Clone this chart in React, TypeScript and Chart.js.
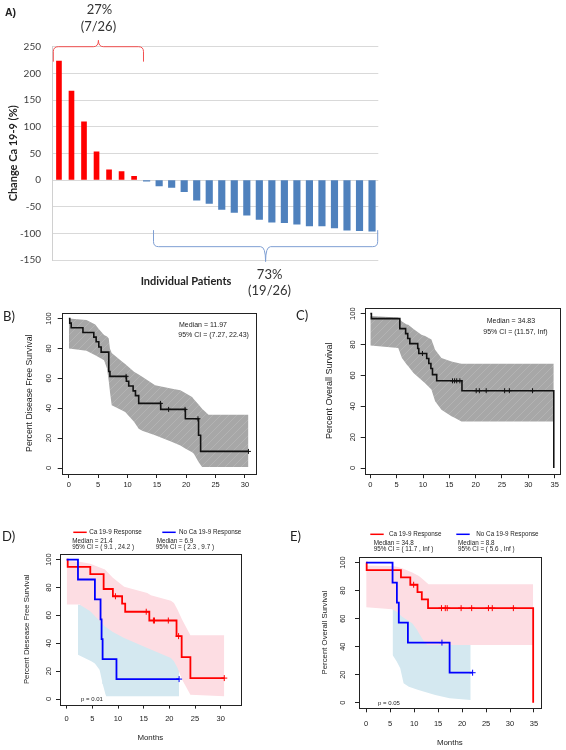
import React, { useEffect, useRef } from 'react';
import { Chart, registerables } from 'chart.js';

Chart.register(...registerables);
Chart.defaults.font.family = "'Liberation Sans', Arial, sans-serif";
Chart.defaults.color = '#222';

// ---------------- Panel A: waterfall of Ca 19-9 change ----------------
const increases = [223, 167, 109, 53, 19, 16, 7];
const decreases = [-2, -11, -14, -22, -38, -44, -55, -61, -66, -74, -79, -80, -83, -86, -86, -90, -94, -95, -96];
const patientIds = [...increases, ...decreases].map((_, i) => String(i + 1));
const yTicksA = [-150, -100, -50, 0, 50, 100, 150, 200, 250];

// ---------------- Panel B: disease free survival (all) ----------------
const tB = [0, 0.15, 0.4, 2.4, 4.25, 4.65, 5.1, 5.5, 6.8, 7.0, 9.8, 10.2, 10.95, 11.35, 11.9, 15.65, 19.85, 22.1, 22.45, 30.6];
const sB = [100, 96.9, 93.8, 90.6, 87.5, 84.4, 80.9, 77.5, 64.5, 61.3, 58.0, 54.8, 51.6, 48.4, 43.2, 39.2, 32.9, 21.9, 11.1, 11.1];
const censorB = [9.75, 15.6, 17.0, 19.8, 22.0, 30.6];
const bandBT = [0, 3, 4.5, 5.1, 6.0, 6.5, 6.8, 7.0, 7.3, 9.1, 9.6, 11.1, 11.9, 12.5, 14.7, 17.6, 19.0, 19.9, 21.0, 21.3, 22.1, 22.7, 23.8, 30.6];
const bandBUp = [100, 99, 96, 93, 89, 88, 86.6, 80, 77, 71, 69.5, 64.3, 62.5, 61, 55.4, 53, 52, 50, 47.5, 46, 42.5, 39.7, 35.7, 35.7];
const bandBLo = [80, 78.5, 75.4, 74, 72, 66.5, 58, 51, 42, 38.5, 37.5, 31, 26.3, 25, 21.9, 17.4, 15, 12.9, 10.5, 9.6, 4, 0.7, 0.7, 0.7];

// ---------------- Panel C: overall survival (all) ----------------
const tC = [0, 0.2, 5.6, 6.7, 7.1, 7.5, 9.0, 9.2, 10.7, 11.1, 11.5, 11.8, 12.6, 17.4, 34.83];
const sC = [100, 96.8, 90.3, 87.1, 83.9, 80.6, 77.4, 74.2, 71.0, 67.7, 64.5, 60.5, 56.5, 50.1, 0];
const censorC = [9.9, 15.6, 16.0, 16.4, 17.0, 20.1, 20.7, 22.0, 25.5, 26.4, 30.8];
const bandCT = [0, 5.3, 6.0, 6.9, 7.2, 8.2, 9.7, 10.4, 11.6, 12.3, 13.5, 15.4, 16.0, 17.3, 34.83];
const bandCUp = [98.5, 97.5, 95, 93, 92.9, 90, 86.4, 85.5, 83.2, 76.7, 71.3, 69, 68.5, 67.6, 67.6];
const bandCLo = [79.3, 77.8, 71.3, 67, 66, 61.6, 57, 55, 50.8, 43.2, 37.8, 33.5, 32.5, 30.2, 30.2];

// ---------------- Panel D: DFS by response ----------------
const tDr = [0, 0.2, 4.6, 7.2, 9.0, 10.8, 11.4, 16.1, 21.4, 22.4, 24.1, 30.7];
const sDr = [100, 94.7, 89.5, 78.9, 73.7, 68.4, 62.6, 56.3, 45.1, 30.0, 15.0, 15.0];
const censorDr = [9.5, 15.5, 16.9, 17.1, 19.8, 21.8, 30.7];
const tDb = [0, 2.2, 5.5, 6.6, 6.8, 7.0, 9.7, 21.9];
const sDb = [100, 85.7, 71.4, 57.1, 42.9, 28.6, 14.3, 14.3];
const censorDb = [21.9];
const bandDrT = [0, 2.5, 4.6, 7.2, 7.4, 9.0, 11.2, 15.7, 16.4, 20.3, 20.9, 21.6, 22.5, 24.1, 30.7];
const bandDrUp = [99, 98.5, 97, 93.3, 93, 87, 80.5, 76, 74.5, 70.5, 68.9, 64, 56.9, 45.7, 45.7];
const bandDrLo = [67.7, 67.7, 62.9, 53, 52.2, 48, 43.8, 36.6, 35.5, 29.4, 27, 22.2, 13.9, 3.1, 1.9];
const bandDbT = [2.2, 4.8, 5.5, 6.4, 6.5, 6.9, 7.0, 7.4, 7.5, 7.7, 9.6, 13.8, 19.0, 21.9];
const bandDbUp = [67.7, 66, 65.5, 63, 62, 58, 57, 55, 54, 53, 50, 45, 40, 35];
const bandDbLo = [31.8, 27, 25.5, 21, 19.5, 12.7, 11, 5.5, 4, 1.9, 1.9, 1.9, 1.9, 1.9];

// ---------------- Panel E: OS by response ----------------
const tEr = [0, 0.1, 7.25, 9.2, 10.7, 11.6, 12.9, 34.83];
const sEr = [100, 94.7, 89.5, 84.2, 78.9, 73.7, 67.5, 0];
const censorEr = [9.9, 15.7, 16.5, 16.9, 19.8, 22.0, 25.5, 26.3, 30.7];
const tEb = [0, 5.5, 6.4, 6.8, 8.7, 17.4, 22.2];
const sEb = [100, 85.7, 71.4, 57.1, 42.9, 21.4, 21.4];
const censorEb = [15.8, 22.2];
const bandErT = [0, 5.4, 6.4, 7.5, 9.6, 10.6, 11.0, 12.0, 12.7, 13.0, 34.83];
const bandErUp = [98, 97.5, 97, 96, 93, 91.2, 90.5, 87.6, 85.5, 84.5, 84.5];
const bandErLo = [68.1, 66.7, 65, 61.4, 56.7, 52, 49.5, 44, 41.2, 41.2, 41.2];
const bandEbT = [5.5, 6.4, 7.1, 7.8, 8.9, 10.9, 14.4, 17.4, 21.8];
const bandEbUp = [70, 70, 68, 66, 64, 62, 60, 58, 56];
const bandEbLo = [34, 29.3, 24.5, 13.8, 11.4, 9, 5.5, 3.1, 1.9];

const survTicks = [0, 20, 40, 60, 80, 100];
const monthTicks30 = [0, 5, 10, 15, 20, 25, 30];
const monthTicks35 = [0, 5, 10, 15, 20, 25, 30, 35];

// -------------------------------------------------------------------
function stepAt(t: number[], s: number[], x: number) {
  let v = s[0];
  for (let i = 0; i < t.length; i++) if (t[i] <= x) v = s[i];
  return v;
}

function hatchPattern() {
  const c = document.createElement('canvas');
  c.width = 8; c.height = 8;
  const g = c.getContext('2d')!;
  g.fillStyle = '#a7a7a7';
  g.fillRect(0, 0, 8, 8);
  g.strokeStyle = '#b3b3b3';
  g.lineWidth = 1;
  g.beginPath(); g.moveTo(0, 8); g.lineTo(8, 0); g.stroke();
  return g.createPattern(c, 'repeat');
}

type Txt = { text: string; x: number; y: number; size: number; family?: string; weight?: string; color?: string; align?: CanvasTextAlign };
type Seg = { x1: number; y1: number; x2: number; y2: number; color: string; width: number };
type Curve = { t: number[]; s: number[]; color: string; width: number; censor: number[]; mark: number };
type Band = { t: number[]; upper: number[]; lower: number[]; color: string | 'hatch' };
type KM = {
  left: number; top: number; width: number; height: number;
  area: { left: number; top: number; right: number; bottom: number };
  xMin: number; xMax: number; xTicks: number[];
  yTitle: string; yTitleSize: number; yTitlePad: number;
  tickSize: number; yLabelPad: number; xLabelPad: number;
  xTitle?: string; xTitleSize?: number; xTitlePad?: number;
  curves: Curve[]; bands: Band[]; texts: Txt[]; segs: Seg[];
};

function drawTexts(ctx: CanvasRenderingContext2D, texts: Txt[]) {
  texts.forEach((t) => {
    ctx.font = `${t.weight || 'normal'} ${t.size}px ${t.family || "'Liberation Sans', Arial, sans-serif"}`;
    ctx.fillStyle = t.color || '#222';
    ctx.textAlign = t.align || 'left';
    ctx.textBaseline = 'middle';
    ctx.fillText(t.text, t.x, t.y);
  });
}

function makeKM(canvas: HTMLCanvasElement, p: KM) {
  const W = p.width, H = p.height;
  const datasets: any[] = [];
  p.curves.forEach((c) =>
    datasets.push({
      data: c.censor.map((x) => ({ x, y: stepAt(c.t, c.s, x) })),
      showLine: false, pointStyle: 'cross', pointRadius: c.mark, pointHoverRadius: c.mark,
      pointBorderColor: c.color, pointBorderWidth: 1, borderColor: c.color, backgroundColor: c.color,
    })
  );
  p.curves.forEach((c) =>
    datasets.push({
      data: c.t.map((x, i) => ({ x, y: c.s[i] })),
      stepped: 'before', borderColor: c.color, borderWidth: c.width, pointRadius: 0, fill: false,
    })
  );
  p.bands.forEach((b) => {
    const color = b.color === 'hatch' ? hatchPattern() : b.color;
    datasets.push({
      data: b.t.map((x, i) => ({ x, y: b.upper[i] })),
      fill: '+1', backgroundColor: color, borderColor: 'rgba(0,0,0,0)', borderWidth: 1, pointRadius: 0,
    });
    datasets.push({
      data: b.t.map((x, i) => ({ x, y: b.lower[i] })),
      fill: false, borderColor: 'rgba(0,0,0,0)', borderWidth: 1, pointRadius: 0,
    });
  });

  const annot = {
    id: 'annot',
    afterDraw(chart: any) {
      const ctx: CanvasRenderingContext2D = chart.ctx;
      ctx.save();
      const a = chart.chartArea;
      ctx.strokeStyle = '#222';
      ctx.lineWidth = 1;
      ctx.strokeRect(Math.round(a.left) + 0.5, Math.round(a.top) + 0.5, Math.round(a.right) - Math.round(a.left), Math.round(a.bottom) - Math.round(a.top));
      p.segs.forEach((s) => {
        ctx.strokeStyle = s.color; ctx.lineWidth = s.width;
        ctx.beginPath(); ctx.moveTo(s.x1, s.y1); ctx.lineTo(s.x2, s.y2); ctx.stroke();
      });
      drawTexts(ctx, p.texts);
      ctx.restore();
    },
  };

  return new Chart(canvas, {
    type: 'line',
    data: { datasets },
    options: {
      responsive: false, animation: false, devicePixelRatio: 1,
      layout: { padding: { left: 0, top: p.area.top, right: W - p.area.right, bottom: 0 } },
      plugins: { legend: { display: false }, tooltip: { enabled: false } },
      scales: {
        x: {
          type: 'linear', min: p.xMin, max: p.xMax,
          afterBuildTicks: (s: any) => { s.ticks = p.xTicks.map((v) => ({ value: v })); },
          afterFit: (s: any) => { s.height = H - p.area.bottom; },
          grid: { drawOnChartArea: false, drawTicks: true, tickLength: 4, color: '#222' },
          border: { display: false },
          ticks: { font: { size: p.tickSize }, color: '#222', padding: p.xLabelPad, maxRotation: 0, autoSkip: false },
          title: p.xTitle
            ? { display: true, text: p.xTitle, font: { size: p.xTitleSize }, color: '#222', padding: { top: 0, bottom: p.xTitlePad } }
            : { display: false },
        },
        y: {
          type: 'linear', min: -4, max: 104,
          afterBuildTicks: (s: any) => { s.ticks = survTicks.map((v) => ({ value: v })); },
          afterFit: (s: any) => { s.width = p.area.left; },
          grid: { drawOnChartArea: false, drawTicks: true, tickLength: 4, color: '#222' },
          border: { display: false },
          ticks: { font: { size: p.tickSize }, color: '#222', padding: p.yLabelPad, minRotation: 90, maxRotation: 90, crossAlign: 'center', autoSkip: false },
          title: { display: true, text: p.yTitle, font: { size: p.yTitleSize }, color: '#222', padding: { top: p.yTitlePad, bottom: 0 } },
        },
      },
    } as any,
    plugins: [annot],
  });
}

function drawBrace(ctx: CanvasRenderingContext2D, x0: number, x1: number, xm: number, yH: number, yEnd: number, yTip: number, r: number) {
  const s = Math.sign(yEnd - yH);
  ctx.beginPath();
  ctx.moveTo(x0, yEnd);
  ctx.lineTo(x0, yH + s * r);
  ctx.quadraticCurveTo(x0, yH, x0 + r, yH);
  ctx.lineTo(xm - r, yH);
  ctx.quadraticCurveTo(xm, yH, xm, yTip);
  ctx.quadraticCurveTo(xm, yH, xm + r, yH);
  ctx.lineTo(x1 - r, yH);
  ctx.quadraticCurveTo(x1, yH, x1, yH + s * r);
  ctx.lineTo(x1, yEnd);
  ctx.stroke();
}

function makeA(canvas: HTMLCanvasElement) {
  const total = increases.length + decreases.length;
  const annotA = {
    id: 'annotA',
    afterDraw(chart: any) {
      const ctx: CanvasRenderingContext2D = chart.ctx;
      const xs = chart.scales.x, ys = chart.scales.y;
      ctx.save();
      ctx.lineWidth = 1;
      const r0 = xs.getPixelForValue(-0.45), r1 = xs.getPixelForValue(increases.length - 1 + 0.75);
      const rm = (r0 + r1) / 2;
      ctx.strokeStyle = '#f25050';
      drawBrace(ctx, r0, r1, rm, ys.getPixelForValue(250), ys.getPixelForValue(222), ys.getPixelForValue(262), 5);
      const b0 = xs.getPixelForValue(increases.length + 0.55), b1 = xs.getPixelForValue(total - 1 + 0.45);
      const bm = (b0 + b1) / 2;
      ctx.strokeStyle = '#7f9fd3';
      drawBrace(ctx, b0, b1, bm, ys.getPixelForValue(-125), ys.getPixelForValue(-94), ys.getPixelForValue(-153), 5);
      const pctUp = Math.round((increases.length / total) * 100);
      const pctDown = Math.round((decreases.length / total) * 100);
      drawTexts(ctx, [
        { text: 'A)', x: 5, y: 13, size: 10.5, weight: 'bold' },
        { text: `${pctUp}%`, x: rm + 1, y: 9.5, size: 13, family: 'Lato', color: '#333', align: 'center' },
        { text: `(${increases.length}/${total})`, x: rm, y: 26.5, size: 13, family: 'Lato', color: '#333', align: 'center' },
        { text: `${pctDown}%`, x: bm + 4, y: 274.5, size: 13, family: 'Lato', color: '#333', align: 'center' },
        { text: `(${decreases.length}/${total})`, x: bm + 4, y: 290.5, size: 13, family: 'Lato', color: '#333', align: 'center' },
        { text: 'Individual Patients', x: 186, y: 281, size: 11, family: 'Lato', weight: 'bold', color: '#222', align: 'center' },
      ]);
      ctx.restore();
    },
  };
  return new Chart(canvas, {
    type: 'bar',
    data: {
      labels: patientIds,
      datasets: [
        { label: 'Increase', data: [...increases, ...decreases.map(() => null)], backgroundColor: '#ff0000', barThickness: 5, grouped: false },
        { label: 'Decrease', data: [...increases.map(() => null), ...decreases], backgroundColor: '#4f81bd', barThickness: 6.5, grouped: false },
      ],
    },
    options: {
      responsive: false, animation: false, devicePixelRatio: 1,
      layout: { padding: { left: 0, top: 46.7, right: 21.7, bottom: 0 } },
      plugins: { legend: { display: false }, tooltip: { enabled: false } },
      scales: {
        x: {
          grid: { display: false }, border: { display: false }, ticks: { display: false },
          afterFit: (s: any) => { s.height = 302 - 260; },
        },
        y: {
          min: -150, max: 250,
          afterBuildTicks: (s: any) => { s.ticks = yTicksA.map((v) => ({ value: v })); },
          afterFit: (s: any) => { s.width = 52.7; },
          ticks: { padding: 11.7, font: { family: 'Lato', size: 10 }, color: '#404040' },
          grid: { color: '#d9d9d9', drawTicks: false },
          border: { color: '#d0d0d0' },
          title: { display: true, text: 'Change Ca 19-9 (%)', font: { family: 'Lato', size: 11, weight: 'bold' }, color: '#222', padding: { top: 6.4, bottom: 0 } },
        },
      },
    } as any,
    plugins: [annotA],
  });
}

const RED = '#ff0000';
const BLUE = '#0000ff';
const PINK = '#fddde3';
const LBLUE = '#d4e8f0';

const panels: KM[] = [
  {
    left: 0, top: 300, width: 283, height: 200,
    area: { left: 61.7, top: 12.5, right: 255.6, bottom: 174 },
    xMin: -1.22, xMax: 31.82, xTicks: monthTicks30,
    yTitle: 'Percent Disease Free Survival', yTitleSize: 8.7, yTitlePad: 24.8,
    tickSize: 7.5, yLabelPad: 2.4, xLabelPad: 2.5,
    curves: [{ t: tB, s: sB, color: '#111', width: 1.6, censor: censorB, mark: 2.5 }],
    bands: [{ t: bandBT, upper: bandBUp, lower: bandBLo, color: 'hatch' }],
    texts: [
      { text: 'B)', x: 3, y: 17, size: 13, family: 'Lato' },
      { text: 'Median = 11.97', x: 179, y: 25, size: 7 },
      { text: '95% CI = (7.27, 22.43)', x: 178.3, y: 35, size: 7 },
    ],
    segs: [],
  },
  {
    left: 283, top: 300, width: 283, height: 200,
    area: { left: 81.7, top: 7.5, right: 277.3, bottom: 174.2 },
    xMin: -1.07, xMax: 36.07, xTicks: monthTicks35,
    yTitle: 'Percent Overall Survival', yTitleSize: 9, yTitlePad: 41.6,
    tickSize: 7.5, yLabelPad: 1.2, xLabelPad: 2.3,
    curves: [{ t: tC, s: sC, color: '#111', width: 1.6, censor: censorC, mark: 2.5 }],
    bands: [{ t: bandCT, upper: bandCUp, lower: bandCLo, color: 'hatch' }],
    texts: [
      { text: 'C)', x: 13, y: 16, size: 13, family: 'Lato' },
      { text: 'Median = 34.83', x: 203.7, y: 20.7, size: 7 },
      { text: '95% CI = (11.57, Inf)', x: 200.3, y: 31.8, size: 7 },
    ],
    segs: [],
  },
  {
    left: 0, top: 515, width: 283, height: 235,
    area: { left: 60, top: 39, right: 240.7, bottom: 189.6 },
    xMin: -1.3, xMax: 33.9, xTicks: monthTicks30,
    yTitle: 'Percent Diesease Free Survival', yTitleSize: 7.8, yTitlePad: 22,
    tickSize: 7.5, yLabelPad: 0.6, xLabelPad: 6.2,
    xTitle: 'Months', xTitleSize: 7.9, xTitlePad: 7,
    curves: [
      { t: tDb, s: sDb, color: BLUE, width: 1.8, censor: censorDb, mark: 3 },
      { t: tDr, s: sDr, color: RED, width: 1.8, censor: censorDr, mark: 3 },
    ],
    bands: [
      { t: bandDrT, upper: bandDrUp, lower: bandDrLo, color: PINK },
      { t: bandDbT, upper: bandDbUp, lower: bandDbLo, color: LBLUE },
    ],
    texts: [
      { text: 'D)', x: 2, y: 21.7, size: 13, family: 'Lato' },
      { text: 'Ca 19-9 Response', x: 89.3, y: 17.3, size: 6.3 },
      { text: 'No Ca 19-9 Response', x: 179, y: 17.3, size: 6.3 },
      { text: 'Median = 21.4', x: 72.3, y: 26, size: 6.3 },
      { text: '95% CI = ( 9.1 , 24.2 )', x: 72.3, y: 32.7, size: 6.3 },
      { text: 'Median = 6.9', x: 156.7, y: 26, size: 6.3 },
      { text: '95% CI = ( 2.3 , 9.7 )', x: 155.7, y: 32.7, size: 6.3 },
      { text: 'p = 0.01', x: 81, y: 184.7, size: 6 },
    ],
    segs: [
      { x1: 73.3, y1: 17.3, x2: 86.7, y2: 17.3, color: RED, width: 1.5 },
      { x1: 162.3, y1: 17.3, x2: 175.7, y2: 17.3, color: BLUE, width: 1.5 },
    ],
  },
  {
    left: 283, top: 515, width: 283, height: 235,
    area: { left: 76, top: 42, right: 257.7, bottom: 193.3 },
    xMin: -1.5, xMax: 36.4, xTicks: monthTicks35,
    yTitle: 'Percent Overall Survival', yTitleSize: 7.8, yTitlePad: 37,
    tickSize: 7.5, yLabelPad: 5.5, xLabelPad: 7.5,
    xTitle: 'Months', xTitleSize: 7.9, xTitlePad: 2,
    curves: [
      { t: tEb, s: sEb, color: BLUE, width: 1.8, censor: censorEb, mark: 3 },
      { t: tEr, s: sEr, color: RED, width: 1.8, censor: censorEr, mark: 3 },
    ],
    bands: [
      { t: bandErT, upper: bandErUp, lower: bandErLo, color: PINK },
      { t: bandEbT, upper: bandEbUp, lower: bandEbLo, color: LBLUE },
    ],
    texts: [
      { text: 'E)', x: 7, y: 21.7, size: 13, family: 'Lato' },
      { text: 'Ca 19-9 Response', x: 106, y: 19.3, size: 6.3 },
      { text: 'No Ca 19-9 Response', x: 193.3, y: 19.3, size: 6.3 },
      { text: 'Median = 34.8', x: 90.7, y: 28.3, size: 6.3 },
      { text: '95% CI = ( 11.7 , Inf )', x: 90.7, y: 34.3, size: 6.3 },
      { text: 'Median = 8.8', x: 175, y: 28.3, size: 6.3 },
      { text: '95% CI = ( 5.6 , Inf )', x: 175, y: 34.3, size: 6.3 },
      { text: 'p = 0.05', x: 95, y: 188.3, size: 6 },
    ],
    segs: [
      { x1: 87.3, y1: 19.3, x2: 100.7, y2: 19.3, color: RED, width: 1.5 },
      { x1: 173.3, y1: 19.3, x2: 186.7, y2: 19.3, color: BLUE, width: 1.5 },
    ],
  },
];

function ChartCanvas(props: { left: number; top: number; width: number; height: number; make: (c: HTMLCanvasElement) => Chart }) {
  const ref = useRef<HTMLCanvasElement>(null);
  useEffect(() => {
    const chart = props.make(ref.current!);
    return () => chart.destroy();
  }, []);
  return (
    <canvas
      ref={ref}
      width={props.width}
      height={props.height}
      style={{ position: 'absolute', left: props.left, top: props.top, width: props.width, height: props.height }}
    />
  );
}

export default function App() {
  return (
    <div style={{ position: 'absolute', left: 0, top: 0, width: 566, height: 750, background: '#fff', overflow: 'hidden' }}>
      <ChartCanvas left={0} top={0} width={400} height={302} make={makeA} />
      {panels.map((p, i) => (
        <ChartCanvas key={i} left={p.left} top={p.top} width={p.width} height={p.height} make={(c) => makeKM(c, p)} />
      ))}
    </div>
  );
}
